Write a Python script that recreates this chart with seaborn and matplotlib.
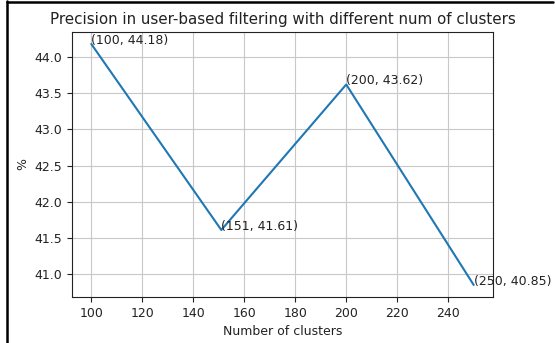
import matplotlib
matplotlib.use("Agg")
import matplotlib.pyplot as plt
from matplotlib.lines import Line2D
import seaborn as sns
import pandas as pd

clusters = [100, 151, 200, 250]
precision = [44.18, 41.61, 43.62, 40.85]

title = "Precision in user-based filtering with different num of clusters"
xlabel = "Number of clusters"
ylabel = "%"

sns.set_style("ticks")
plt.rcParams["font.family"] = ["DejaVu Sans"]

df = pd.DataFrame({"clusters": clusters, "precision": precision})

fig = plt.figure(figsize=(5.55, 3.43), dpi=100)
ax = fig.add_axes([0.130, 0.134, 0.758, 0.773])

sns.lineplot(data=df, x="clusters", y="precision", ax=ax,
             color="#1f77b4", linewidth=1.5)

for x, y in zip(clusters, precision):
    ax.text(x, y, f"({x}, {y})", fontsize=9, color="#222222")

ax.grid(True, color="#c8c8c8", linewidth=0.8)
ax.set_title(title, fontsize=10.9, color="#222222")
ax.set_xlabel(xlabel, fontsize=9, color="#222222")
ax.set_ylabel(ylabel, fontsize=9, color="#222222")
ax.tick_params(labelsize=9, colors="#222222", length=3.5, width=0.8)
ax.set_xticks(range(100, 260, 20))
ax.set_yticks([41.0, 41.5, 42.0, 42.5, 43.0, 43.5, 44.0])
for s in ax.spines.values():
    s.set_color("#222222")
    s.set_linewidth(0.8)
    s.set_visible(True)

# frame lines along the left and top edges of the figure
fig.add_artist(Line2D([7 / 555, 7 / 555], [0, 1 - 1 / 343], color="black",
                      linewidth=1.8, transform=fig.transFigure))
fig.add_artist(Line2D([7 / 555, 553 / 555], [1 - 1.5 / 343, 1 - 1.5 / 343],
                      color="black", linewidth=1.8, transform=fig.transFigure))

fig.savefig("out.png", dpi=100)
